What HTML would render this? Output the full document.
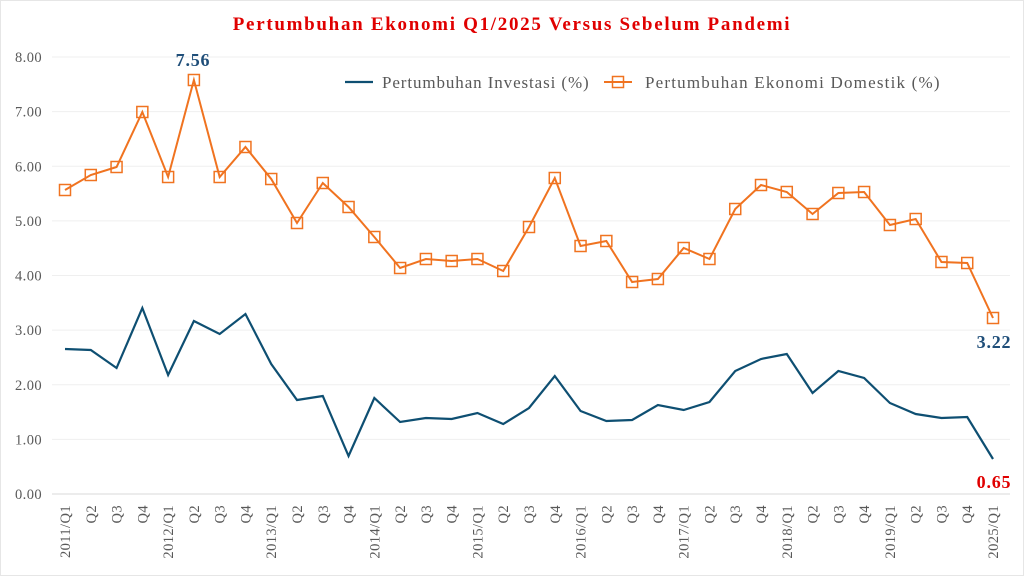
<!DOCTYPE html>
<html><head><meta charset="utf-8"><style>
html,body{margin:0;padding:0;background:#fff;width:1024px;height:576px;overflow:hidden}
svg{display:block;font-family:"Liberation Serif",serif}
</style></head><body>
<svg id="s" width="1024" height="576" viewBox="0 0 1024 576" xmlns="http://www.w3.org/2000/svg">
<rect x="0.5" y="0.5" width="1023" height="575" fill="#fff" stroke="#e6e6e6"/>
<text x="512" y="30" text-anchor="middle" font-size="19" font-weight="bold" fill="#e00000" letter-spacing="1.7">Pertumbuhan  Ekonomi  Q1/2025  Versus  Sebelum  Pandemi</text>
<g id="grid"></g>
<g id="lines"></g>
<line x1="345" y1="82" x2="373" y2="82" stroke="#0e4f72" stroke-width="2.2"/>
<text x="382" y="88" font-size="17" fill="#595959" letter-spacing="0.9">Pertumbuhan Investasi (%)</text>
<line x1="604" y1="82" x2="632" y2="82" stroke="#f07320" stroke-width="2"/>
<rect x="612.5" y="76.5" width="11" height="11" fill="none" stroke="#f07320" stroke-width="1.5"/>
<text x="645" y="88" font-size="17" fill="#595959" letter-spacing="1.2">Pertumbuhan Ekonomi Domestik (%)</text>
<text x="193" y="66" text-anchor="middle" font-size="18" font-weight="bold" fill="#1f4e79" letter-spacing="0.8">7.56</text>
<text x="994" y="348" text-anchor="middle" font-size="18" font-weight="bold" fill="#1f4e79" letter-spacing="0.8">3.22</text>
<text x="994" y="488" text-anchor="middle" font-size="18" font-weight="bold" fill="#e00000" letter-spacing="0.8">0.65</text>
</svg>
<script>
var o=[190,175,167,112,177,80,177,147,179,223,183,207,237,268,259,261,259,271,227,178,246,241,282,279,248,259,209,185,192,214,193,192,225,219,262,263,318];
var b=[349,350,368,308,375,321,334,314,364,400,396,456,398,422,418,419,413,424,408,376,411,421,420,405,410,402,371,359,354,393,371,378,403,414,418,417,459];
var g=document.getElementById('grid'),l=document.getElementById('lines'),h='';
for(var v=0;v<=8;v++){var y=494-v*54.625;
h+='<line x1="52" x2="1010" y1="'+y+'" y2="'+y+'" stroke="'+(v==0?'#d9d9d9':'#efefef')+'" stroke-width="1"/>';
h+='<text x="42" y="'+(y+5)+'" text-anchor="end" font-size="14.5" fill="#595959" letter-spacing="0.4">'+v.toFixed(2)+'</text>';}
var X=function(i){return 65+i*25.778;};
for(var i=0;i<37;i++){var q=i%4,yr=2011+Math.floor(i/4),t=q==0?(i==36?'2025/Q1':yr+'/Q1'):'Q'+(q+1);
h+='<text transform="translate('+(X(i)+5)+',505) rotate(-90)" text-anchor="end" font-size="14.5" fill="#595959" letter-spacing="0.4">'+t+'</text>';}
g.innerHTML=h;
var pb=b.map(function(y,i){return X(i)+','+y}).join(' '),po=o.map(function(y,i){return X(i)+','+y}).join(' ');
var m='<polyline points="'+pb+'" fill="none" stroke="#0e4f72" stroke-width="2.2"/>';
m+='<polyline points="'+po+'" fill="none" stroke="#f07320" stroke-width="2"/>';
for(i=0;i<37;i++)m+='<rect x="'+(X(i)-5.5)+'" y="'+(o[i]-5.5)+'" width="11" height="11" fill="none" stroke="#f07320" stroke-width="1.5"/>';
l.innerHTML=m;
</script>
</body></html>
